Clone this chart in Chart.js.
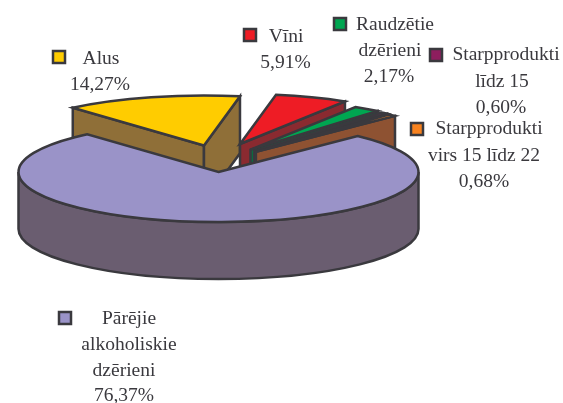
<!DOCTYPE html>
<html>
<head>
<meta charset="utf-8">
<style>
  html, body { margin: 0; padding: 0; background: #fff; overflow: hidden; }
  canvas { display: block; }
</style>
<script src="https://cdn.jsdelivr.net/npm/chart.js@4"></script>
</head>
<body>
<canvas id="myChart" width="563" height="403"></canvas>
<script>
// data
const categories = ['Alus', 'Vīni', 'Raudzētie dzērieni', 'Starpprodukti līdz 15', 'Starpprodukti virs 15 līdz 22', 'Pārējie alkoholiskie dzērieni'];
const shares = [14.27, 5.91, 2.17, 0.60, 0.68, 76.37];
const labelLines = [['Alus'], ['Vīni'], ['Raudzētie', 'dzērieni'], ['Starpprodukti', 'līdz 15'], ['Starpprodukti', 'virs 15 līdz 22'], ['Pārējie', 'alkoholiskie', 'dzērieni']];

// colours
const topColors = ['#ffcc00', '#ee1c25', '#00a651', '#8e1e5e', '#f7821f', '#9a93c8'];
const wallColors = ['#8f6f38', '#8a2a30', '#0d6b40', '#5c1a40', '#8e5232', '#6a5d70'];
const inkColor = '#3a393e';

// layout of the fake 3D pie
const centre = { x: 218.5, y: 172 };
const radiusX = 200;
const radiusY = 50;
const depth = 57;
const pulled = [0.55, 0.6, 0.55, 0.55, 0.55, 0];

// where each label sits: swatch corner, then centre x and baseline of each line
const labelPlaces = [
  { box: [52, 50], xs: [101, 100], ys: [64, 90] },
  { box: [243, 28], xs: [286, 285.5], ys: [42, 68] },
  { box: [333, 17], xs: [395, 390, 389], ys: [30, 56, 82] },
  { box: [429, 48], xs: [506, 502, 501], ys: [60, 87, 113] },
  { box: [410, 122], xs: [489, 484, 484], ys: [134, 161, 187] },
  { box: [58, 311], xs: [129, 129, 124, 124], ys: [324, 350, 376, 401] }
];

// library angle to a point on the squashed pie, relative to that slice's apex
function rim(angle) {
  return [Math.cos(angle) * radiusX, Math.sin(angle) * radiusY];
}

function apexOf(i, el) {
  const mid = (el.startAngle + el.endAngle) / 2;
  return {
    x: centre.x + Math.cos(mid) * pulled[i] * radiusX * 0.5,
    y: centre.y + Math.sin(mid) * pulled[i] * radiusY
  };
}

function paint(ctx, fill) {
  ctx.fillStyle = fill;
  ctx.fill();
  ctx.stroke();
}

function radialWall(ctx, apex, angle, color) {
  const p = rim(angle);
  ctx.beginPath();
  ctx.moveTo(apex.x, apex.y);
  ctx.lineTo(apex.x + p[0], apex.y + p[1]);
  ctx.lineTo(apex.x + p[0], apex.y + p[1] + depth);
  ctx.lineTo(apex.x, apex.y + depth);
  ctx.closePath();
  paint(ctx, color);
}

function arcWall(ctx, apex, from, to, color) {
  ctx.beginPath();
  ctx.ellipse(apex.x, apex.y, radiusX, radiusY, 0, from, to);
  ctx.ellipse(apex.x, apex.y + depth, radiusX, radiusY, 0, to, from, true);
  ctx.closePath();
  paint(ctx, color);
}

function drawSlice(ctx, i, el) {
  const apex = apexOf(i, el);
  const start = el.startAngle;
  const end = el.endAngle;

  // only the walls turned towards the viewer
  if (Math.cos(start) < 0) radialWall(ctx, apex, start, wallColors[i]);
  if (Math.cos(end) > 0) radialWall(ctx, apex, end, wallColors[i]);
  if (start < Math.PI && end > 0) {
    const from = Math.max(start, 0);
    const to = Math.min(end, Math.PI);
    if (to > from) arcWall(ctx, apex, from, to, wallColors[i]);
  }

  // top face: the library's own arc, squashed
  ctx.save();
  ctx.translate(apex.x, apex.y);
  ctx.scale(1, radiusY / radiusX);
  ctx.translate(-el.x, -el.y);
  el.draw(ctx);
  ctx.restore();

  // outline outside the squash so the line keeps its width
  ctx.beginPath();
  ctx.moveTo(apex.x, apex.y);
  ctx.ellipse(apex.x, apex.y, radiusX, radiusY, 0, start, end);
  ctx.closePath();
  ctx.stroke();
}

function drawLabels(ctx) {
  ctx.textAlign = 'center';
  ctx.textBaseline = 'alphabetic';
  ctx.font = '19.5px "Liberation Serif"';
  labelPlaces.forEach((place, i) => {
    ctx.fillStyle = topColors[i];
    ctx.strokeStyle = inkColor;
    ctx.lineWidth = 2.5;
    ctx.beginPath();
    ctx.rect(place.box[0] + 1, place.box[1] + 1, 12, 12);
    ctx.fill();
    ctx.stroke();

    const lines = labelLines[i].concat(shares[i].toFixed(2).replace('.', ',') + '%');
    ctx.fillStyle = inkColor;
    lines.forEach((line, n) => ctx.fillText(line, place.xs[n], place.ys[n]));
  });
}

const pie3d = {
  id: 'pie3d',
  beforeDatasetsDraw(chart) {
    const ctx = chart.ctx;
    const arcs = chart.getDatasetMeta(0).data;
    ctx.save();
    ctx.strokeStyle = inkColor;
    ctx.lineWidth = 2.5;
    ctx.lineJoin = 'miter';
    arcs.forEach((el, i) => drawSlice(ctx, i, el));
    ctx.restore();
    return false;
  },
  afterDraw(chart) {
    drawLabels(chart.ctx);
  }
};

new Chart(document.getElementById('myChart').getContext('2d'), {
  type: 'pie',
  data: {
    labels: categories,
    datasets: [{
      data: shares,
      backgroundColor: topColors,
      borderWidth: 0,
      radius: radiusX,
      clip: false
    }]
  },
  options: {
    responsive: false,
    animation: false,
    rotation: -41,
    plugins: {
      legend: { display: false },
      tooltip: { enabled: false }
    }
  },
  plugins: [pie3d]
});
</script>
</body>
</html>
